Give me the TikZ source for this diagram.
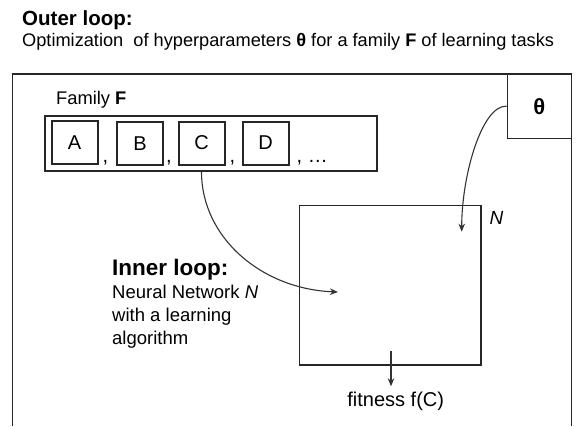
\documentclass[tikz,border=0pt]{standalone}
\usepackage{fontspec}
\setmainfont{Liberation Sans}
\usetikzlibrary{arrows.meta}
\begin{document}
\begin{tikzpicture}[x=1pt,y=-1pt,
  frame/.style={draw=black!85, line width=1.4pt},
  taskbox/.style={draw=black!85, line width=2pt, minimum width=46pt,
    minimum height=43pt, inner sep=0pt, font=\fontsize{20}{24}\selectfont},
  lbl/.style={inner sep=0pt, anchor=base west},
  conn/.style={draw=black!80, line width=1.1pt,
    -{Stealth[length=8pt,width=6.5pt,inset=2.5pt]}}
]
\useasboundingbox (0,0) rectangle (578,426);

% headings
\node[lbl, font=\fontsize{20.5}{24}\selectfont\bfseries] (outer) at (22,25) {Outer loop:};
\node[lbl, font=\fontsize{18.2}{22}\selectfont] (outersub) at (22,46.5)
  {Optimization\ \ of hyperparameters \textbf{θ} for a family \textbf{F} of learning tasks};

% outer frame, open at the bottom
\coordinate (fbl) at (12.3,426);
\coordinate (ftl) at (12.3,74);
\coordinate (ftr) at (571.3,74);
\coordinate (fbr) at (571.3,426);
\draw[frame] (fbl) -- (ftl) -- (ftr) -- (fbr);

% hyperparameter box
\node[frame, minimum width=64pt, minimum height=64.3pt, inner sep=0pt,
  font=\fontsize{22}{26}\selectfont\bfseries] (theta) at (539.3,106.15) {θ};

% family of tasks
\node[lbl, font=\fontsize{18.3}{22}\selectfont] (famlbl) at (56,104.5) {Family \textbf{F}};
\node[frame, minimum width=332pt, minimum height=55pt, inner sep=0pt] (row) at (211,143.5) {};
\node[taskbox] (A) at (74.5,142.5) {A};
\node[taskbox] (B) at (140,143.5) {B};
\node[taskbox] (C) at (201.5,143) {C};
\node[taskbox] (D) at (265.5,143) {D};
\node[lbl, font=\fontsize{20}{24}\selectfont] (c1) at (102.5,162.5) {,};
\node[lbl, font=\fontsize{20}{24}\selectfont] (c2) at (166,162.5) {,};
\node[lbl, font=\fontsize{20}{24}\selectfont] (c3) at (229.5,162.5) {,};
\node[lbl, font=\fontsize{20}{24}\selectfont] (c4) at (296.5,162.5) {, …};

% inner loop network
\node[frame, minimum width=181.7pt, minimum height=159.3pt, inner sep=0pt] (net) at (390.2,285.4) {};
\node[lbl, font=\fontsize{19}{22}\selectfont\itshape] (netN) at (489.3,224) {N};

\node[lbl, font=\fontsize{22.5}{26}\selectfont\bfseries] (inner) at (112,275) {Inner loop:};
\node[lbl, font=\fontsize{18.5}{22}\selectfont] (innerA) at (112,298.3) {Neural Network \textit{N}};
\node[lbl, font=\fontsize{18.5}{22}\selectfont] (innerB) at (112,321.6) {with a learning};
\node[lbl, font=\fontsize{18.5}{22}\selectfont] (innerC) at (112,344.9) {algorithm};

% fitness output
\node[inner sep=0pt, anchor=base, font=\fontsize{20}{24}\selectfont] (fit) at (395.7,406) {fitness f(C)};
\coordinate (fitfrom) at (391,351);
\draw[conn, shorten >=5pt] (fitfrom) -- (fitfrom |- fit.north);

% task C fed to the network
\coordinate (cEnd) at (338,292);
\draw[conn] (C.south |- row.south) .. controls (201.5,238) and (262,289) .. (cEnd);

% hyperparameters fed to the network
\coordinate (tEnd) at (461.7,231.7);
\draw[conn] (theta.west) .. controls (482,105) and (461.7,175) .. (tEnd);
\end{tikzpicture}
\end{document}
